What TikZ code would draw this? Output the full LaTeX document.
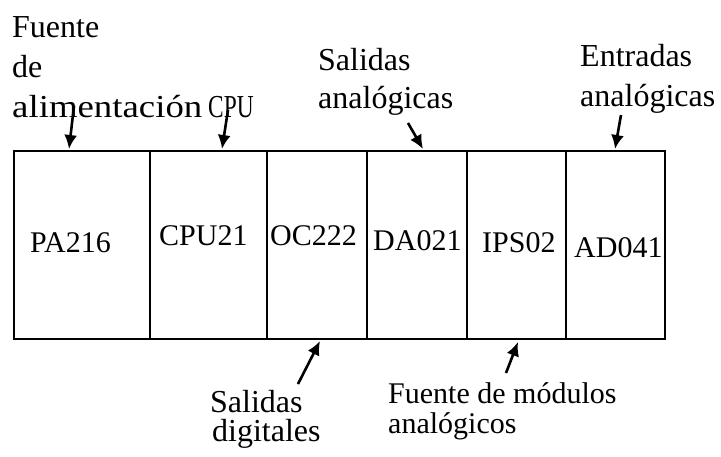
\documentclass[tikz,border=0pt]{standalone}
\usepackage{graphicx}
\usepackage{fontspec}
\setmainfont{Liberation Serif}
\usetikzlibrary{arrows.meta}
\tikzset{
	modulo/.style={draw, line width=2.6pt, inner sep=0pt, outer sep=0pt, anchor=north west},
	rotulo/.style={inner sep=0pt, anchor=base west, font=\fontsize{30}{30}\selectfont},
	texto/.style={inner sep=0pt, anchor=base west, font=\fontsize{32}{40}\selectfont},
	flecha/.style={line width=2.6pt, -{Latex[length=14pt,width=13pt]}}
}
\begin{document}
\begin{tikzpicture}[x=1pt,y=-1pt]
	\useasboundingbox (0,0) rectangle (721,456);
	\foreach \n/\a/\b/\t/\tx/\ty in {pa/14/150/PA216/30/252, cpu/150/267/CPU21/159/245, oc/267/367/OC222/270/245, da/367/467/DA021/373/250, ips/467/566/IPS02/482/252, ad/566/665/AD041/574/257}{
		\node[modulo, minimum width={\b-\a}, minimum height=188] at (\a,151) (\n) {};
		\node[rotulo] at (\tx,\ty) (\n-t) {\t};
	}
	\node[texto] at (12,37) (f1) {Fuente};
	\node[texto] at (12,77) (f2) {de};
	\node[texto] at (12,117) (f3) {\scalebox{1.15}[1]{alimentación}};
	\node[texto] at (208,117) (c1) {\scalebox{0.73}[1]{CPU}};
	\node[texto] at (318,70) (s1) {Salidas};
	\node[texto] at (318,108) (s2) {analógicas};
	\node[texto] at (580,66) (e1) {Entradas};
	\node[texto] at (580,106) (e2) {analógicas};
	\node[texto] at (210,412) (d1) {Salidas};
	\node[texto] at (212,441) (d2) {digitales};
	\node[rotulo] at (388,403) (m1) {Fuente de módulos};
	\node[rotulo] at (388,433) (m2) {analógicos};
	\foreach \n/\xa/\ya/\xb/\yb in {pa/74/106/69/149, cpu/228/110/222/149, da/408/123/423/149, ad/621/115/615/149, oc/298/384/320/341, ips/506/373/518/342}{
		\coordinate (\n-a) at (\xa,\ya);
		\coordinate (\n-b) at (\xb,\yb);
		\draw[flecha] (\n-a) -- (\n-b);
	}
\end{tikzpicture}
\end{document}
